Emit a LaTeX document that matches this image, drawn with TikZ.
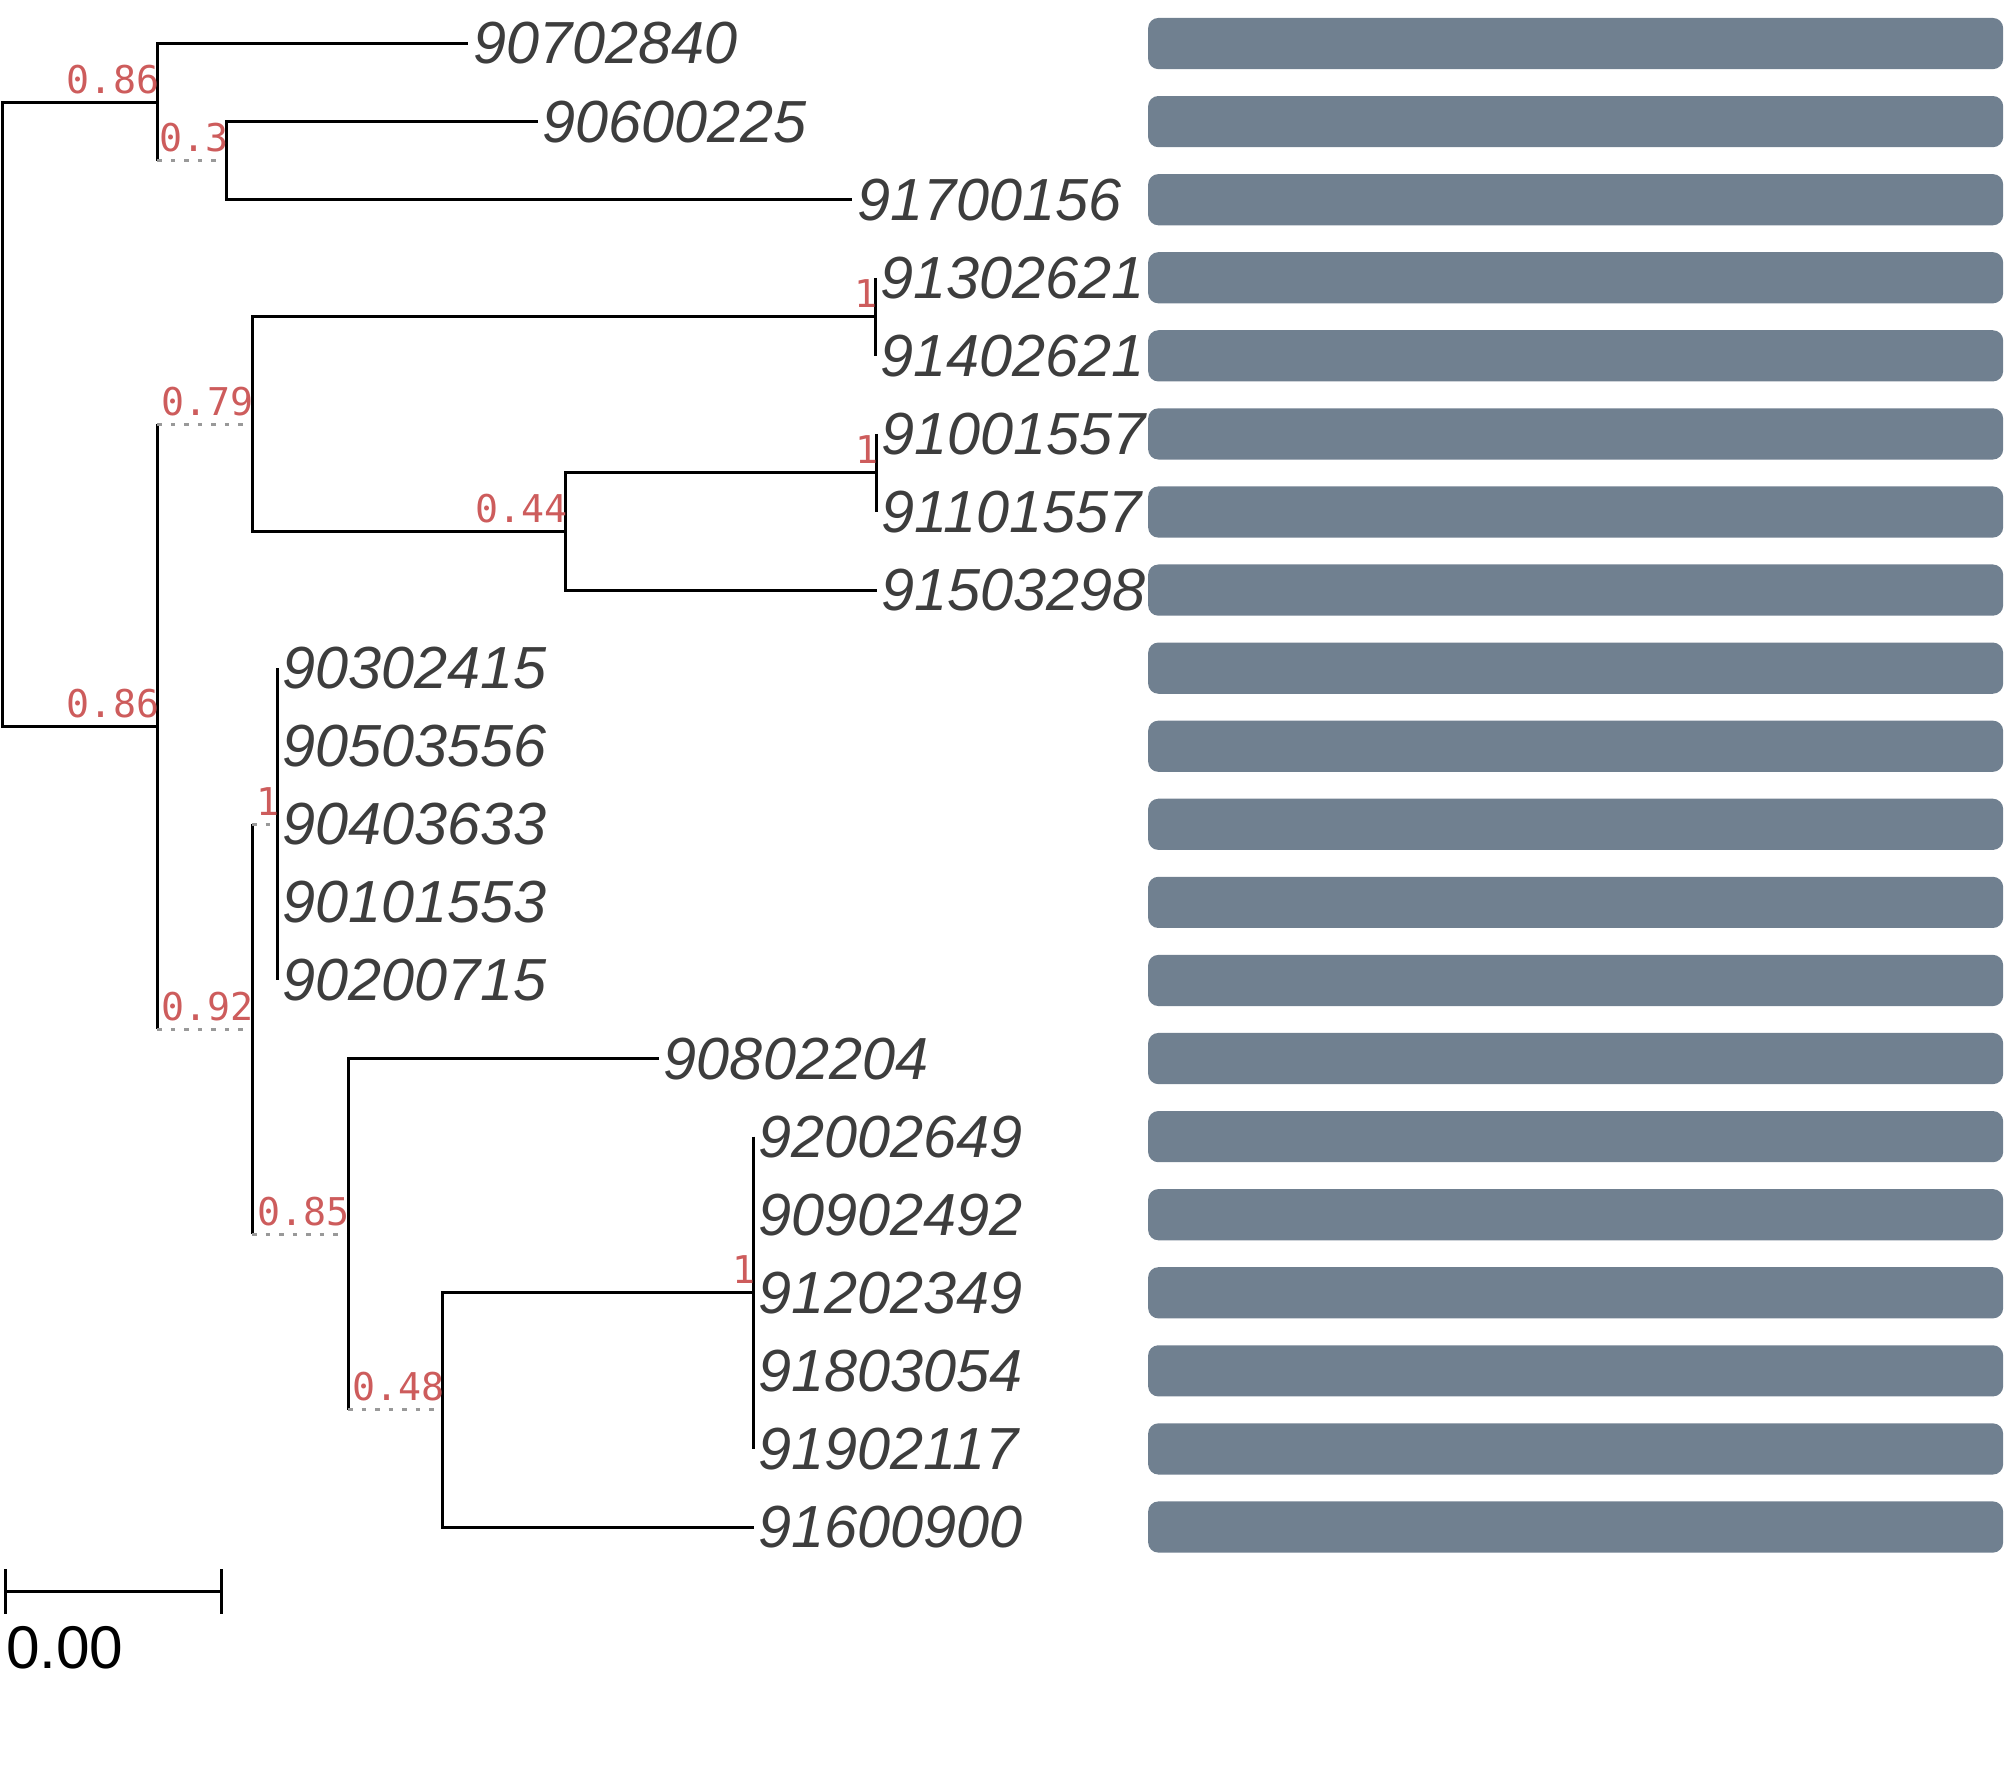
\documentclass[tikz,border=0pt]{standalone}
\usepackage{fontspec}
\setmainfont{Liberation Sans}
\newfontfamily\supportfont{DejaVu Sans Mono}
\definecolor{tipgray}{HTML}{3D3D3D}
\definecolor{supportred}{HTML}{CD5C5C}
\definecolor{barslate}{HTML}{708090}
\definecolor{weakgray}{HTML}{999999}
\tikzset{
  branch/.style={line width=0.66pt, black},
  weakbranch/.style={line width=0.66pt, weakgray, dash pattern=on 1pt off 2pt},
  tiplabel/.style={anchor=west, inner sep=0pt, xshift=0.03cm, text=tipgray, font=\fontsize{13.2}{15}\selectfont\itshape},
  support/.style={anchor=base east, inner sep=0pt, xshift=0.02cm, yshift=0.07cm, text=supportred, font=\supportfont\fontsize{8.5}{10}\selectfont},
  bar/.style={fill=barslate, rounded corners=0.08cm}
}
\begin{document}
\begin{tikzpicture}[x=0.01cm,y=-0.01cm]
\useasboundingbox (0,0) rectangle (1568,1396);
% internal nodes
\coordinate (nR) at (2,323.6);
\coordinate (nA) at (123,79.75);
\coordinate (nB) at (177,125.5);
\coordinate (nC) at (123,567.5);
\coordinate (nD) at (197,331.4);
\coordinate (nE) at (684,247.5);
\coordinate (nF) at (442,415.25);
\coordinate (nG) at (685,369.5);
\coordinate (nH) at (197,804);
\coordinate (nI) at (217,644);
\coordinate (nJ) at (272,964.25);
\coordinate (nK) at (346,1101.5);
\coordinate (nL) at (589,1010);
% tips
\coordinate (t1) at (366,34);
\coordinate (t2) at (420,95);
\coordinate (t3) at (666,156);
\coordinate (t4) at (684,217);
\coordinate (t5) at (684,278);
\coordinate (t6) at (685,339);
\coordinate (t7) at (685,400);
\coordinate (t8) at (685,461);
\coordinate (t9) at (217,522);
\coordinate (t10) at (217,583);
\coordinate (t11) at (217,644);
\coordinate (t12) at (217,705);
\coordinate (t13) at (217,766);
\coordinate (t14) at (515,827);
\coordinate (t15) at (589,888);
\coordinate (t16) at (589,949);
\coordinate (t17) at (589,1010);
\coordinate (t18) at (589,1071);
\coordinate (t19) at (589,1132);
\coordinate (t20) at (589,1193);
% tip labels
\node[tiplabel] (l1) at (t1) {90702840};
\node[tiplabel] (l2) at (t2) {90600225};
\node[tiplabel] (l3) at (t3) {91700156};
\node[tiplabel] (l4) at (t4) {91302621};
\node[tiplabel] (l5) at (t5) {91402621};
\node[tiplabel] (l6) at (t6) {91001557};
\node[tiplabel] (l7) at (t7) {91101557};
\node[tiplabel] (l8) at (t8) {91503298};
\node[tiplabel] (l9) at (t9) {90302415};
\node[tiplabel] (l10) at (t10) {90503556};
\node[tiplabel] (l11) at (t11) {90403633};
\node[tiplabel] (l12) at (t12) {90101553};
\node[tiplabel] (l13) at (t13) {90200715};
\node[tiplabel] (l14) at (t14) {90802204};
\node[tiplabel] (l15) at (t15) {92002649};
\node[tiplabel] (l16) at (t16) {90902492};
\node[tiplabel] (l17) at (t17) {91202349};
\node[tiplabel] (l18) at (t18) {91803054};
\node[tiplabel] (l19) at (t19) {91902117};
\node[tiplabel] (l20) at (t20) {91600900};
% branches
\draw[branch] (nR) |- (nA);
\draw[branch] (nR) |- (nC);
\draw[branch] (nA) |- (t1);
\draw[branch] (nA) -- (nA |- nB);
\draw[weakbranch] (nA |- nB) -- (nB);
\draw[branch] (nB) |- (t2);
\draw[branch] (nB) |- (t3);
\draw[branch] (nC) -- (nC |- nD);
\draw[weakbranch] (nC |- nD) -- (nD);
\draw[branch] (nC) -- (nC |- nH);
\draw[weakbranch] (nC |- nH) -- (nH);
\draw[branch] (nD) |- (nE);
\draw[branch] (t4) -- (t5);
\draw[branch] (nD) |- (nF);
\draw[branch] (nF) |- (nG);
\draw[branch] (t6) -- (t7);
\draw[branch] (nF) |- (t8);
\draw[branch] (nH) -- (nH |- nI);
\draw[weakbranch] (nH |- nI) -- (nI);
\draw[branch] (t9) -- (t13);
\draw[branch] (nH) -- (nH |- nJ);
\draw[weakbranch] (nH |- nJ) -- (nJ);
\draw[branch] (nJ) |- (t14);
\draw[branch] (nJ) -- (nJ |- nK);
\draw[weakbranch] (nJ |- nK) -- (nK);
\draw[branch] (nK) |- (nL);
\draw[branch] (t15) -- (t19);
\draw[branch] (nK) |- (t20);
% support values
\node[support] (sA) at (nA) {0.86};
\node[support] (sB) at (nB) {0.3};
\node[support] (sC) at (nC) {0.86};
\node[support] (sD) at (nD) {0.79};
\node[support] (sE) at (nE) {1};
\node[support] (sF) at (nF) {0.44};
\node[support] (sG) at (nG) {1};
\node[support] (sH) at (nH) {0.92};
\node[support] (sI) at (nI) {1};
\node[support] (sJ) at (nJ) {0.85};
\node[support] (sK) at (nK) {0.48};
\node[support] (sL) at (nL) {1};
% bars
\fill[bar] (897,14) rectangle (1565,54);
\fill[bar] (897,75) rectangle (1565,115);
\fill[bar] (897,136) rectangle (1565,176);
\fill[bar] (897,197) rectangle (1565,237);
\fill[bar] (897,258) rectangle (1565,298);
\fill[bar] (897,319) rectangle (1565,359);
\fill[bar] (897,380) rectangle (1565,420);
\fill[bar] (897,441) rectangle (1565,481);
\fill[bar] (897,502) rectangle (1565,542);
\fill[bar] (897,563) rectangle (1565,603);
\fill[bar] (897,624) rectangle (1565,664);
\fill[bar] (897,685) rectangle (1565,725);
\fill[bar] (897,746) rectangle (1565,786);
\fill[bar] (897,807) rectangle (1565,847);
\fill[bar] (897,868) rectangle (1565,908);
\fill[bar] (897,929) rectangle (1565,969);
\fill[bar] (897,990) rectangle (1565,1030);
\fill[bar] (897,1051) rectangle (1565,1091);
\fill[bar] (897,1112) rectangle (1565,1152);
\fill[bar] (897,1173) rectangle (1565,1213);
% scale bar
\coordinate (sbL) at (4,1243);
\coordinate (sbR) at (173,1243);
\draw[branch] (sbL) -- (sbR);
\draw[branch] ([yshift=0.17cm]sbL) -- ([yshift=-0.18cm]sbL);
\draw[branch] ([yshift=0.17cm]sbR) -- ([yshift=-0.18cm]sbR);
\node[anchor=west, inner sep=0pt, font=\fontsize{13.4}{15}\selectfont] (sbtext) at (4,1287) {0.00};
\end{tikzpicture}
\end{document}
